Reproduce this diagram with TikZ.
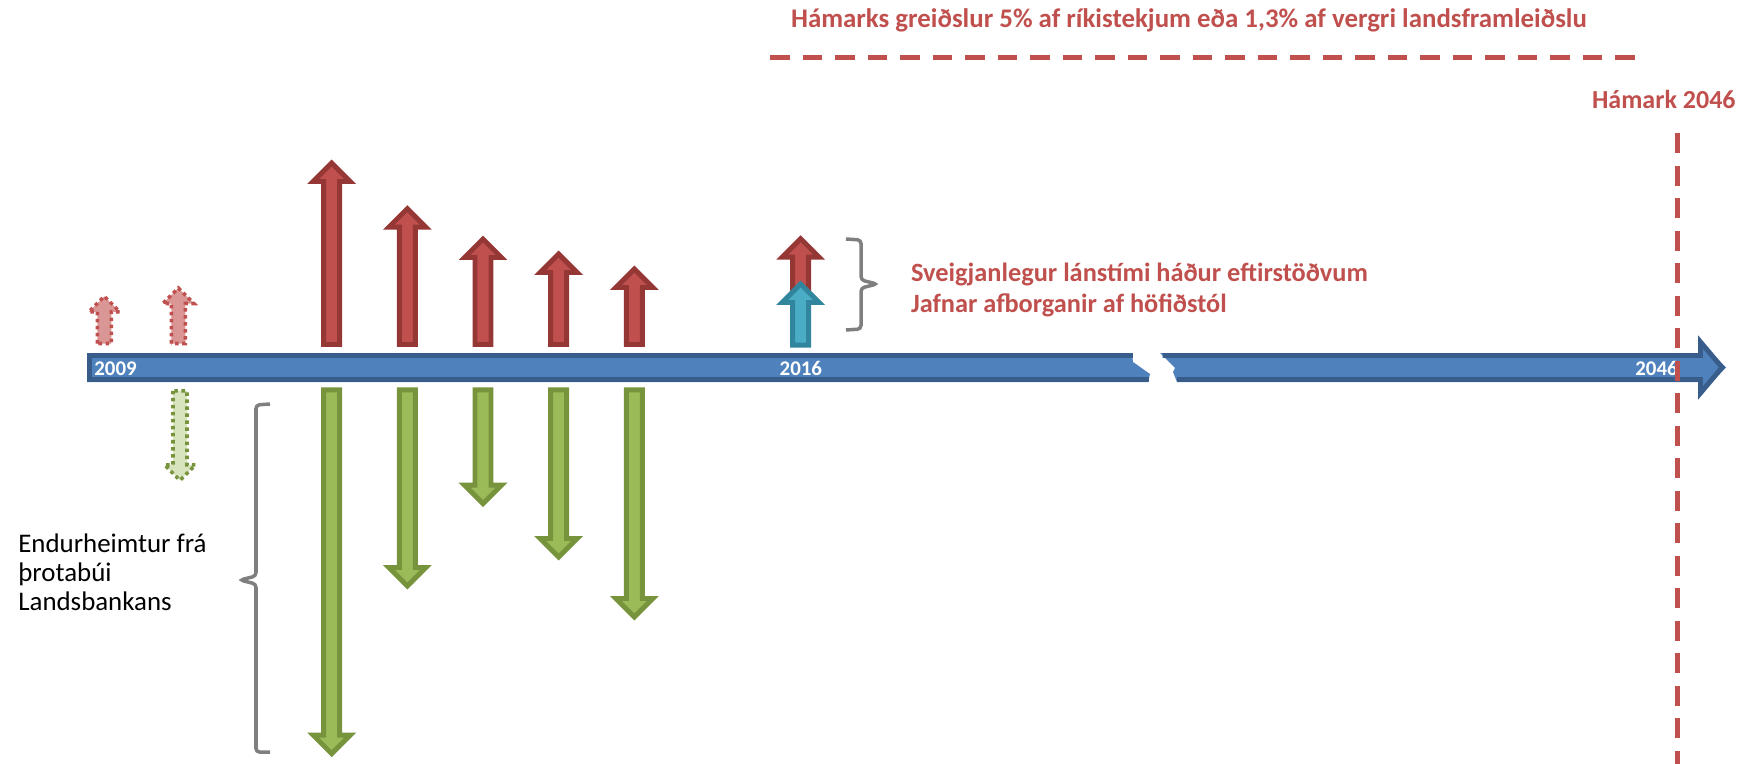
\documentclass[tikz,border=0pt]{standalone}
\usepackage{fontspec}
\setmainfont{Carlito}

\definecolor{redfill}{HTML}{C0504D}
\definecolor{redline}{HTML}{953735}
\definecolor{pinkfill}{HTML}{D99694}
\definecolor{greenfill}{HTML}{9BBB59}
\definecolor{greenline}{HTML}{77933C}
\definecolor{palegreen}{HTML}{D7E4BD}
\definecolor{bluefill}{HTML}{4F81BD}
\definecolor{blueline}{HTML}{385D8A}
\definecolor{tealfill}{HTML}{4BACC6}
\definecolor{tealline}{HTML}{31859C}
\definecolor{bracegray}{HTML}{7F7F7F}

% block arrow: [style]{x}{tail y}{tip y}{half shaft}{half head}
\newcommand{\blockarrow}[6][]{%
  \pgfmathsetmacro{\arrdir}{sign(#3-#4)}%
  \pgfmathsetmacro{\arrtip}{#4+3*\arrdir}%
  \pgfmathsetmacro{\arrbase}{\arrtip+#6*\arrdir}%
  \pgfmathsetmacro{\arrtail}{#3-2.5*\arrdir}%
  \draw[#1] ({#2-#5},\arrtail) -- ({#2-#5},\arrbase) -- ({#2-#6},\arrbase) -- (#2,\arrtip)
    -- ({#2+#6},\arrbase) -- ({#2+#5},\arrbase) -- ({#2+#5},\arrtail) -- cycle;
}

\begin{document}
\begin{tikzpicture}[x=0.02cm, y=-0.02cm,
    redarrow/.style={fill=redfill, draw=redline, line width=2.8pt},
    greenarrow/.style={fill=greenfill, draw=greenline, line width=2.8pt},
    tealarrow/.style={fill=tealfill, draw=tealline, line width=2.8pt},
    dotarrow/.style={fill=#1, line width=2pt, dash pattern=on 2pt off 2pt},
    barline/.style={draw=blueline, line width=2.8pt},
    reddash/.style={draw=redfill, line width=2.8pt, dash pattern=on 11.3pt off 7.2pt},
    bracket/.style={draw=bracegray, line width=2pt, rounded corners=2pt},
    yearlabel/.style={anchor=base west, inner sep=0pt, text=white, font=\fontsize{11.9}{14}\selectfont\bfseries},
    redlabel/.style={anchor=base west, inner sep=0pt, text=redfill, font=\fontsize{#1}{18}\selectfont\bfseries},
    blacklabel/.style={anchor=base west, inner sep=0pt, font=\fontsize{15.3}{18}\selectfont}
]
    \useasboundingbox (0,0) rectangle (1752,764);

    % timeline bar, broken in two
    \fill[bluefill] (87,353) -- (1132,353) -- (1133,362) -- (1150,374) -- (1148,382) -- (87,382) -- cycle;
    \draw[barline] (1132.5,355.5) -- (89.5,355.5) -- (89.5,379.5) -- (1148.5,379.5);
    \fill[bluefill] (1160,353) -- (1698,353) -- (1698,339) -- (1726,367.5) -- (1698,396) -- (1698,382)
        -- (1177,382) -- (1173,372) -- (1175,368) -- cycle;
    \draw[barline] (1162.5,355.5) -- (1700.5,355.5) -- (1700.5,342) -- (1722,367.5) -- (1700.5,393)
        -- (1700.5,379.5) -- (1177,379.5);

    \node[yearlabel] (y2009) at (94,375) {2009};
    \node[yearlabel] (y2016) at (779.3,375) {2016};
    \node[yearlabel] (y2046) at (1635,375) {2046};

    % payments up, recoveries down
    \foreach \x/\up/\down in {331.7/160/756.7, 407.3/205.7/589, 483/236/506.7, 558.7/251/560, 634.3/266/620} {
        \blockarrow[redarrow]{\x}{347}{\up}{8}{18.5}
        \blockarrow[greenarrow]{\x}{387.3}{\down}{8}{18.5}
    }

    % early years, dotted
    \blockarrow[dotarrow=pinkfill, draw=redfill]{104.3}{346}{293.3}{7}{15.5}
    \blockarrow[dotarrow=pinkfill, draw=redfill]{178.3}{346}{285}{7}{15.5}
    \blockarrow[dotarrow=palegreen, draw=greenline]{180}{388.3}{483.3}{7}{15.5}

    % 2016 stacked arrows
    \blockarrow[redarrow]{800.7}{300}{235.7}{8}{18.5}
    \blockarrow[tealarrow]{800.7}{347.7}{281}{8}{18.5}

    % brackets
    \draw[bracket] (270,404) -- (256,405) -- (256,576) -- (240,580) -- (256,584) -- (256,752) -- (270,752);
    \draw[bracket] (846,239) -- (861,240) -- (861,280) -- (877,284) -- (861,288) -- (861,329) -- (846,330);

    \node[redlabel=15] (flex) at (910.7,281.7) {Sveigjanlegur lánstími háður eftirstöðvum};
    \node[redlabel=15] (equal) at (910.7,312.7) {Jafnar afborganir af höfiðstól};

    \node[blacklabel] (rec1) at (18,552) {Endurheimtur frá};
    \node[blacklabel] (rec2) at (18,581) {þrotabúi};
    \node[blacklabel] (rec3) at (18,610) {Landsbankans};

    % ceiling and end year
    \coordinate (capL) at (770,57.3);
    \coordinate (capR) at (1638.3,57.3);
    \draw[reddash] (capL) -- (capR);
    \node[redlabel=15.3] (cap) at (790.7,28) {Hámarks greiðslur 5\% af ríkistekjum eða 1,3\% af vergri landsframleiðslu};

    \coordinate (endT) at (1677.7,133.3);
    \coordinate (endB) at (1677.7,764);
    \draw[reddash] (endT) -- (endB);
    \node[redlabel=14.8] (end) at (1591.7,108.3) {Hámark 2046};
\end{tikzpicture}
\end{document}
